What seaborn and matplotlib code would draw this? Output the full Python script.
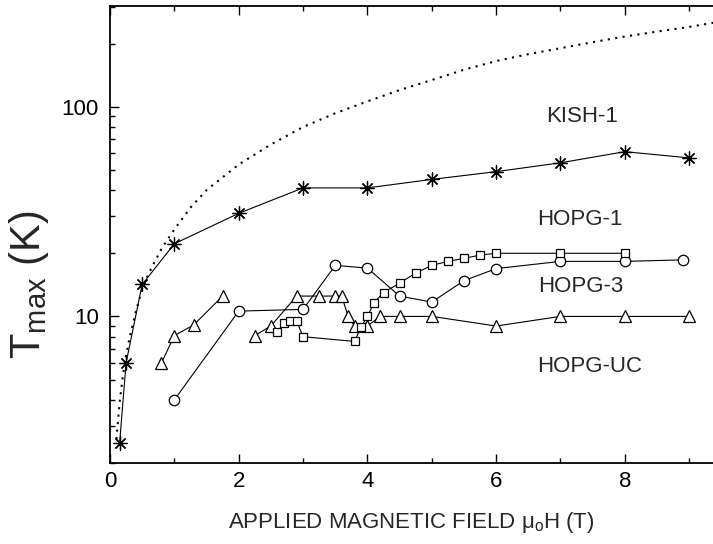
import numpy as np
import pandas as pd
import matplotlib
matplotlib.use('Agg')
import matplotlib.pyplot as plt
import seaborn as sns
from matplotlib.ticker import FixedLocator, NullFormatter, LogLocator, MultipleLocator, FuncFormatter

# ---- data ----
# KISH-1 (asterisks)
kish_x = [0.15, 0.25, 0.5, 1.0, 2.0, 3.0, 4.0, 5.0, 6.0, 7.0, 8.0, 9.0]
kish_y = [2.5, 6.0, 14.2, 22.2, 31.0, 41.0, 41.0, 45.0, 49.0, 54.0, 61.0, 57.0]

# HOPG-1 (squares)
sq_x = [2.6, 2.7, 2.8, 2.9, 3.0, 3.8, 3.9, 4.0, 4.1, 4.25, 4.5, 4.75, 5.0, 5.25, 5.5, 5.75, 6.0, 7.0, 8.0]
sq_y = [8.4, 9.3, 9.5, 9.5, 8.0, 7.6, 8.9, 10.0, 11.6, 13.0, 14.4, 16.1, 17.5, 18.3, 18.9, 19.6, 20.0, 20.0, 20.0]

# HOPG-3 (circles)
ci_x = [1.0, 2.0, 3.0, 3.5, 4.0, 4.5, 5.0, 5.5, 6.0, 7.0, 8.0, 8.9]
ci_y = [4.0, 10.6, 10.8, 17.5, 17.0, 12.5, 11.7, 14.8, 16.9, 18.3, 18.3, 18.6]

# HOPG-UC (triangles), low-field branch and main branch
tl_x = [0.8, 1.0, 1.3, 1.75]
tl_y = [6.0, 8.1, 9.1, 12.5]
tr_x = [2.25, 2.5, 2.9, 3.25, 3.5, 3.6, 3.7, 3.8, 4.0, 4.2, 4.5, 5.0, 6.0, 7.0, 8.0, 9.0]
tr_y = [8.1, 9.0, 12.5, 12.5, 12.5, 12.5, 10.0, 9.0, 9.0, 10.0, 10.0, 10.0, 9.0, 10.0, 10.0, 10.0]

# dotted curve
dot_x = [0.1, 0.15, 0.2, 0.25, 0.3, 0.4, 0.5, 0.6, 0.8, 1.0, 1.25, 1.5, 2.0, 2.5, 3.0, 3.5,
         4.0, 4.5, 5.0, 5.5, 6.0, 6.5, 7.0, 7.5, 8.0, 8.5, 9.0, 9.4]
dot_y = [2.6, 3.9, 5.2, 6.5, 7.8, 10.5, 13.5, 16.0, 21.0, 26.0, 33.0, 40.0, 53.0, 66.0, 80.0, 93.0,
         106.0, 120.0, 134.0, 150.0, 165.0, 178.0, 190.0, 203.0, 216.0, 228.0, 240.0, 252.0]

labels = ["KISH-1", "HOPG-1", "HOPG-3", "HOPG-UC"]
label_x = [7.34, 7.30, 7.32, 7.45]
label_y = [90.0, 29.0, 13.9, 5.8]

x_ticks = [0, 2, 4, 6, 8]
y_ticks = [10, 100]

# ---- style ----
sns.set_theme(style="ticks")
plt.rcParams['font.family'] = ['Liberation Sans', 'DejaVu Sans']
plt.rcParams['mathtext.fontset'] = 'custom'
plt.rcParams['mathtext.rm'] = 'Liberation Sans'
plt.rcParams['mathtext.default'] = 'regular'

fig = plt.figure(figsize=(7.13, 5.44), dpi=100)
ax = fig.add_axes([110 / 713, 81 / 544, 603 / 713, 457 / 544])


def draw(x, y, marker, ms, mew=0.9, zorder=3):
    df = pd.DataFrame({"x": x, "y": y})
    sns.lineplot(data=df, x="x", y="y", ax=ax, sort=False, estimator=None,
                 color="black", linewidth=0.8, marker=marker, markersize=ms,
                 markerfacecolor="white", markeredgecolor="black",
                 markeredgewidth=mew, zorder=zorder)


sns.lineplot(x=dot_x, y=dot_y, ax=ax, sort=False, estimator=None, color="black",
             linewidth=1.5, linestyle=(0, (1, 2.6)), zorder=2)

draw(kish_x, kish_y, (8, 2, 0), 10, mew=0.9, zorder=4)
draw(tl_x, tl_y, "^", 8.5)
draw(tr_x, tr_y, "^", 8.5)
draw(ci_x, ci_y, "o", 7.5)
draw(sq_x, sq_y, "s", 6.2, zorder=3.5)

for t, lx, ly in zip(labels, label_x, label_y):
    ax.text(lx, ly, t, ha="center", va="center", fontsize=16)

ax.set_yscale("log")
ax.set_xlim(0, 9.37)
ax.set_ylim(2, 302)

ax.xaxis.set_major_locator(FixedLocator(x_ticks))
ax.xaxis.set_minor_locator(MultipleLocator(1))
ax.yaxis.set_major_locator(FixedLocator(y_ticks))
ax.yaxis.set_minor_locator(LogLocator(base=10, subs=range(2, 10)))
ax.yaxis.set_minor_formatter(NullFormatter())
ax.yaxis.set_major_formatter(FuncFormatter(lambda v, p: f"{v:g}"))

ax.tick_params(which="both", direction="in", top=True, right=False,
               width=1.0, labelsize=16, colors="black")
ax.tick_params(which="major", length=6.5, pad=6)
ax.tick_params(which="minor", length=3.8)
ax.tick_params(axis="y", which="major", pad=8)

for s in ["left", "bottom", "top"]:
    ax.spines[s].set_linewidth(1.3)
    ax.spines[s].set_color("black")
ax.spines["right"].set_visible(False)

ax.set_xlabel("APPLIED MAGNETIC FIELD μ$_{o}$H (T)", fontsize=16)
ax.xaxis.label.set_va("center")
ax.xaxis.set_label_coords(0.5, -0.131)

ax.set_ylabel("T$_{max}$ (K)", fontsize=30)
ax.yaxis.label.set_va("center")
ax.yaxis.set_label_coords(-0.135, 0.39)

ax.set_facecolor("white")
fig.patch.set_facecolor("white")
fig.savefig("out.png", dpi=100)
